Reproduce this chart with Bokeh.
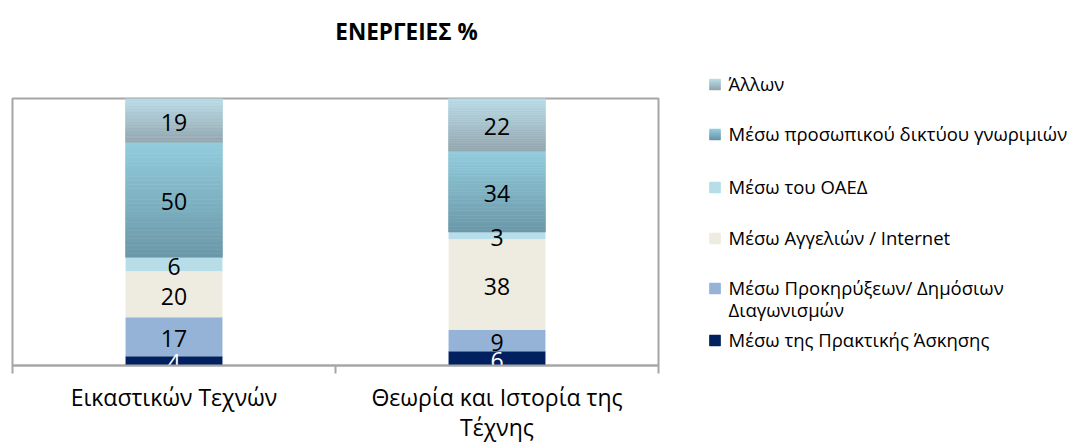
from bokeh.plotting import figure
from bokeh.models import Range1d, FixedTicker
from bokeh.layouts import column, row
from bokeh.core.properties import value
from bokeh.embed import file_html
from bokeh.resources import INLINE

# ---------------- data ----------------
title_text = "ΕΝΕΡΓΕΙΕΣ %"
categories = ["Εικαστικών Τεχνών", "Θεωρία και Ιστορία της\nΤέχνης"]
series_names = [
    "Μέσω της Πρακτικής Άσκησης",
    "Μέσω Προκηρύξεων/ Δημόσιων\nΔιαγωνισμών",
    "Μέσω Αγγελιών / Internet",
    "Μέσω του ΟΑΕΔ",
    "Μέσω προσωπικού δικτύου γνωριμιών",
    "Άλλων",
]
praktiki = [4, 6]
prokiryxeis = [17, 9]
aggelies = [20, 38]
oaed = [6, 3]
diktyo = [50, 34]
allon = [19, 22]
series_values = [praktiki, prokiryxeis, aggelies, oaed, diktyo, allon]

# ---------------- styles ----------------
FONT = "Open Sans"
GRAY = "#A6A6A6"
series_colors = [  # (top colour, bottom colour)
    ("#002060", "#002060"),
    ("#95B3D7", "#95B3D7"),
    ("#EEECE1", "#EEECE1"),
    ("#B7DEE8", "#B7DEE8"),
    ("#93CDDD", "#6A97A8"),
    ("#B9DCE7", "#93A6AF"),
]
label_colors = ["white", "black", "black", "black", "black", "black"]


def hex2rgb(h):
    h = h.lstrip("#")
    return tuple(int(h[i:i + 2], 16) for i in (0, 2, 4))


def mix(c1, c2, t):
    a, b = hex2rgb(c1), hex2rgb(c2)
    return "#%02x%02x%02x" % tuple(round(a[i] + (b[i] - a[i]) * t) for i in range(3))


TOP_H = 60          # height of the title strip
MAIN_W = 668        # width of the chart figure
PAGE_W = 1068
PAGE_H = 444
FRAME_TOP, FRAME_BOT = 98, 365
BORDER_TOP = FRAME_TOP - TOP_H
BORDER_BOT = 78

# ---------------- title strip ----------------
tf = figure(frame_width=MAIN_W, frame_height=TOP_H, x_range=Range1d(0, MAIN_W),
            y_range=Range1d(TOP_H, 0), output_backend="svg", toolbar_location=None,
            x_axis_location=None, y_axis_location=None, min_border=0)
tf.outline_line_color = None
tf.xgrid.visible = False
tf.ygrid.visible = False
tf.text(x=[394], y=[31], text=[title_text], text_align="center", text_baseline="middle",
        text_font=value(FONT), text_font_style="bold", text_font_size="22.5px",
        text_color="black")

# ---------------- chart ----------------
p = figure(frame_width=646, frame_height=FRAME_BOT - FRAME_TOP,
           x_range=Range1d(0, len(categories)), y_range=Range1d(0, 100),
           output_backend="svg", toolbar_location=None, y_axis_location=None,
           min_border_left=12, min_border_right=MAIN_W - 12 - 646,
           min_border_top=BORDER_TOP, min_border_bottom=BORDER_BOT,
           background_fill_color="white", border_fill_color="white")
p.xgrid.visible = False
p.ygrid.visible = False
p.outline_line_color = GRAY
p.outline_line_width = 2

cat_x = [i + 0.5 for i in range(len(categories))]
totals = [sum(s[j] for s in series_values) for j in range(len(categories))]

BAR_W = 0.3
NSLICE = 30
bottoms = [0.0] * len(categories)
lx, ly, lt, lc = [], [], [], []
for si, vals in enumerate(series_values):
    top_c, bot_c = series_colors[si]
    for j, v in enumerate(vals):
        h = v / totals[j] * 100
        b = bottoms[j]
        t = b + h
        if top_c == bot_c:
            p.vbar(x=[cat_x[j]], width=BAR_W, bottom=[b], top=[t],
                   fill_color=top_c, line_color=None)
        else:
            xs, bs, ts, cs = [], [], [], []
            for k in range(NSLICE):
                xs.append(cat_x[j])
                bs.append(b + h * k / NSLICE)
                ts.append(b + h * (k + 1) / NSLICE)
                cs.append(mix(top_c, bot_c, 1 - (k + 0.5) / NSLICE))
            p.vbar(x=xs, width=BAR_W, bottom=bs, top=ts, fill_color=cs,
                   line_color=cs, line_width=0.6)
        lx.append(cat_x[j]); ly.append((b + t) / 2); lt.append(str(v))
        lc.append(label_colors[si])
        bottoms[j] = t

p.text(x=lx, y=ly, text=lt, text_color=lc, text_align="center",
       text_baseline="middle", text_font=value(FONT), text_font_size="23px",
       y_offset=2)

ax = p.xaxis[0]
ax.ticker = FixedTicker(ticks=cat_x, minor_ticks=[float(i) for i in range(len(categories) + 1)])
ax.major_tick_out = 0
ax.major_tick_in = 0
ax.minor_tick_out = 8
ax.minor_tick_in = 0
ax.minor_tick_line_color = GRAY
ax.minor_tick_line_width = 2
ax.axis_line_color = GRAY
ax.axis_line_width = 2
ax.major_label_overrides = {cat_x[i]: categories[i] for i in range(len(categories))}
ax.major_label_text_font = FONT
ax.major_label_text_font_size = "23px"
ax.major_label_text_line_height = 0.95
ax.major_label_text_color = "black"
ax.major_label_standoff = 7

# ---------------- legend (full-height side panel) ----------------
LEG_W = PAGE_W - MAIN_W
lf = figure(frame_width=LEG_W, frame_height=PAGE_H,
            x_range=Range1d(MAIN_W, MAIN_W + LEG_W), y_range=Range1d(PAGE_H, 0),
            output_backend="svg", toolbar_location=None,
            x_axis_location=None, y_axis_location=None, min_border=0)
lf.outline_line_color = None
lf.xgrid.visible = False
lf.ygrid.visible = False

legend_rows = [84, 134, 187, 238, 288, 340]
SW_L, SW_R, SW_H = 709, 720, 11
TEXT_X = 728
LINE_GAP = 22
order = list(range(len(series_names)))[::-1]
ql, qr, qt, qb, qc = [], [], [], [], []
tx, ty, tt = [], [], []
for r, si in enumerate(order):
    cy = legend_rows[r]
    top_c, bot_c = series_colors[si]
    for k in range(SW_H):
        ql.append(SW_L); qr.append(SW_R)
        qt.append(cy - SW_H / 2 + k); qb.append(cy - SW_H / 2 + k + 1)
        qc.append(mix(top_c, bot_c, k / (SW_H - 1)))
    for li, line in enumerate(series_names[si].split("\n")):
        tx.append(TEXT_X); ty.append(cy - 1 + LINE_GAP * li); tt.append(line)
lf.quad(left=ql, right=qr, top=qt, bottom=qb, fill_color=qc, line_color=qc, line_width=0.5)
lf.text(x=tx, y=ty, text=tt, text_align="left", text_baseline="middle",
        text_font=value(FONT), text_font_size="18.5px", text_color="black")

layout = row(column(tf, p), lf)
open("out.html", "w").write(file_html(layout, INLINE))
